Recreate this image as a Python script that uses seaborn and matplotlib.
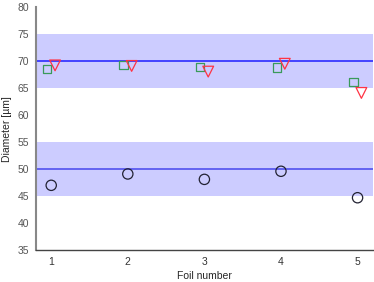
import matplotlib
matplotlib.use("Agg")
import matplotlib.pyplot as plt
import seaborn as sns
import pandas as pd
import numpy as np

sns.set_style("white")
plt.rcParams['font.family'] = ['Liberation Sans', 'DejaVu Sans']

foils = [1, 2, 3, 4, 5]
circles = [47.0, 49.1, 48.1, 49.6, 44.7]
squares = [68.5, 69.3, 68.95, 68.8, 66.1]
triangles = [69.2, 69.1, 68.05, 69.5, 64.1]
band_centers = [70, 50]
band_half = 5
xticks = [1, 2, 3, 4, 5]
yticks = [35, 40, 45, 50, 55, 60, 65, 70, 75, 80]

fig = plt.figure(figsize=(3.74, 2.82), dpi=100)
ax = fig.add_axes([0.096, 0.113, 0.901, 0.862])

for c, lc in zip(band_centers, ['#3838ff', '#5a5af0']):
    ax.axhspan(c - band_half, c + band_half, color='#ccccff', lw=0, zorder=0)
    ax.axhline(c, color=lc, lw=1.3, zorder=1)

df_c = pd.DataFrame({'x': np.array(foils, float), 'y': circles})
df_s = pd.DataFrame({'x': np.array(foils, float) - 0.055, 'y': squares})
df_t = pd.DataFrame({'x': np.array(foils, float) + 0.05, 'y': triangles})

specs = [(df_c, 'o', 55, '#222233'), (df_s, 's', 36, '#3a9a5a'), (df_t, 'v', 60, '#ff3344')]
for df, m, s, ec in specs:
    sns.scatterplot(data=df, x='x', y='y', ax=ax, marker=m, s=s,
                    linewidth=0.9, zorder=3)
    coll = ax.collections[-1]
    coll.set_facecolor('none')
    coll.set_edgecolor(ec)

ax.set_xlim(0.8, 5.2)
ax.set_ylim(35, 80)
ax.set_xticks(xticks)
ax.set_yticks(yticks)
ax.set_xticklabels([str(v) for v in xticks])
ax.set_yticklabels([str(v) for v in yticks])
ax.tick_params(axis='both', labelsize=7.5, length=3, width=0.6, direction='out',
               colors='#333333', pad=2)
ax.tick_params(axis='y', colors='#555555')
ax.set_xlabel('Foil number', fontsize=7.5, labelpad=3)
ax.set_ylabel('Diameter [µm]', fontsize=7.5, labelpad=4)
for s in ['top', 'right']:
    ax.spines[s].set_visible(False)
ax.spines['left'].set_color('#888888')
ax.spines['left'].set_linewidth(1.5)
ax.spines['bottom'].set_color('#444444')
ax.spines['bottom'].set_linewidth(1.0)

fig.savefig('out.png', dpi=100)
